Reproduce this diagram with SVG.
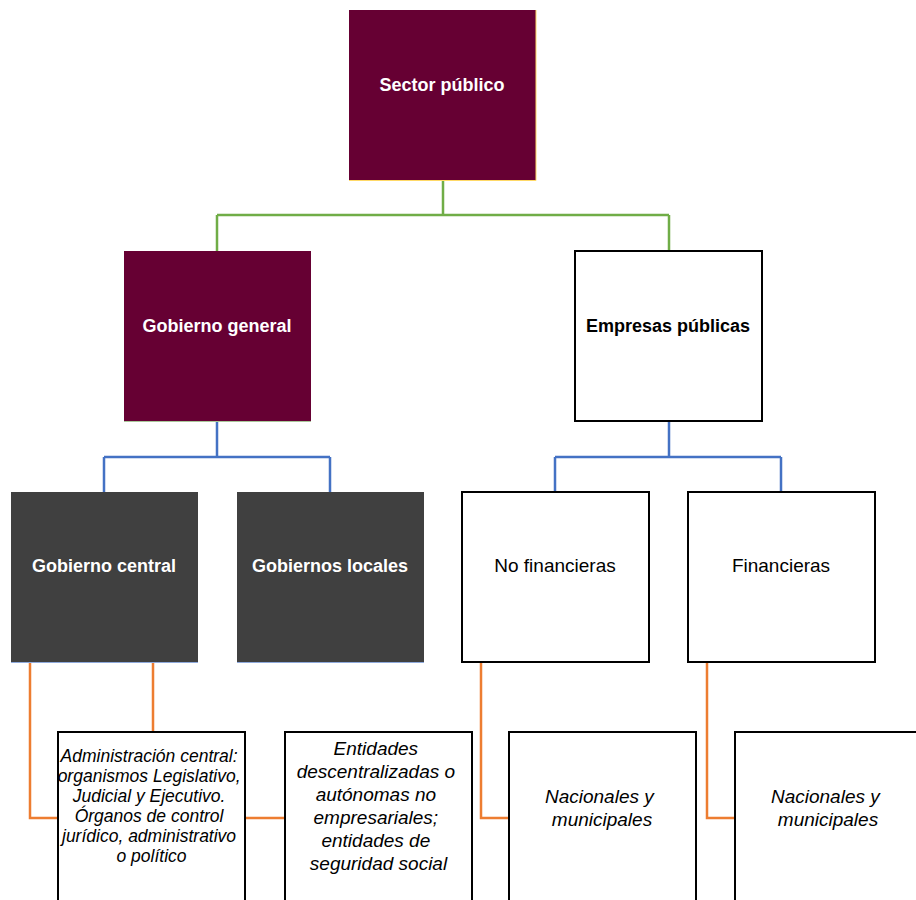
<svg xmlns="http://www.w3.org/2000/svg" width="916" height="900" viewBox="0 0 916 900">
<style>
.b{font-family:"Liberation Sans",Arial,sans-serif;font-weight:bold;font-size:18px;text-anchor:middle}
.r{font-family:"Liberation Sans",Arial,sans-serif;font-size:19px;text-anchor:middle}
.i{font-family:"Liberation Sans",Arial,sans-serif;font-style:italic;text-anchor:middle}
.w{fill:#ffffff}
.k{fill:#000000}
.wbox{fill:#ffffff;stroke:#000000;stroke-width:2}
.dark{fill:#404040}
.maroon{fill:#660033}
.c{fill:none;stroke-width:2.5}
.g{stroke:#70ad47}
.bl{stroke:#4472c4}
.o{stroke:#ed7d31}
.edge{fill:none;stroke-width:1}
</style>
<rect width="916" height="900" fill="#ffffff"/>
<g id="connectors">
<path class="c g" d="M443,180 V215 M217,215 H669 M217,215 V251 M669,215 V251"/>
<path class="c bl" d="M217,421 V457 M104,457 H330 M104,457 V492 M330,457 V492"/>
<path class="c bl" d="M669,421 V457 M555,457 H781 M555,457 V492 M781,457 V492"/>
<path class="c o" d="M30,662 V818 H58"/>
<path class="c o" d="M153,662 V818 H285"/>
<path class="c o" d="M481,662 V818 H509"/>
<path class="c o" d="M707,662 V818 H734"/>
</g>
<g id="sector-publico">
<rect class="maroon" x="349" y="10" width="187" height="170"/>
<path class="edge" stroke="#ffd966" d="M536,10 V180.5 H349"/>
<text class="b w" x="442" y="91">Sector público</text>
</g>
<g id="gobierno-general">
<rect class="maroon" x="124" y="251" width="187" height="170"/>
<path class="edge" stroke="#a9c79a" d="M124,421.5 H311"/>
<text class="b w" x="217" y="332">Gobierno general</text>
</g>
<g id="empresas-publicas">
<rect class="wbox" x="575" y="251" width="187" height="170"/>
<text class="b k" x="668" y="332">Empresas públicas</text>
</g>
<g id="gobierno-central">
<rect class="dark" x="11" y="492" width="187" height="170"/>
<path class="edge" stroke="#8faadc" d="M11,662.5 H198"/>
<text class="b w" x="104" y="572">Gobierno central</text>
</g>
<g id="gobiernos-locales">
<rect class="dark" x="237" y="492" width="187" height="170"/>
<path class="edge" stroke="#8faadc" d="M237,662.5 H424"/>
<text class="b w" x="330" y="572">Gobiernos locales</text>
</g>
<g id="no-financieras">
<rect class="wbox" x="462" y="492" width="187" height="170"/>
<text class="r k" x="555" y="572">No financieras</text>
</g>
<g id="financieras">
<rect class="wbox" x="688" y="492" width="187" height="170"/>
<text class="r k" x="781" y="572">Financieras</text>
</g>
<g id="administracion-central">
<rect class="wbox" x="58" y="732" width="187" height="180"/>
<text class="i k" font-size="17.5" x="151.5">
<tspan x="151.5" y="762">Administración central:</tspan>
<tspan x="151.5" y="782">organismos Legislativo,</tspan>
<tspan x="151.5" y="802">Judicial y Ejecutivo.</tspan>
<tspan x="151.5" y="822">Órganos de control</tspan>
<tspan x="151.5" y="842">jurídico, administrativo</tspan>
<tspan x="151.5" y="862">o político</tspan>
</text>
</g>
<g id="entidades">
<rect class="wbox" x="285" y="732" width="187" height="180"/>
<text class="i k" font-size="19" x="378.5">
<tspan x="378.5" y="755">Entidades</tspan>
<tspan x="378.5" y="778">descentralizadas o</tspan>
<tspan x="378.5" y="801">autónomas no</tspan>
<tspan x="378.5" y="824">empresariales;</tspan>
<tspan x="378.5" y="847">entidades de</tspan>
<tspan x="378.5" y="870">seguridad social</tspan>
</text>
</g>
<g id="nacionales-1">
<rect class="wbox" x="509" y="732" width="187" height="180"/>
<text class="i k" font-size="19" x="602">
<tspan x="602" y="803">Nacionales y</tspan>
<tspan x="602" y="826">municipales</tspan>
</text>
</g>
<g id="nacionales-2">
<rect class="wbox" x="735" y="732" width="187" height="180"/>
<text class="i k" font-size="19" x="828">
<tspan x="828" y="803">Nacionales y</tspan>
<tspan x="828" y="826">municipales</tspan>
</text>
</g>
</svg>
